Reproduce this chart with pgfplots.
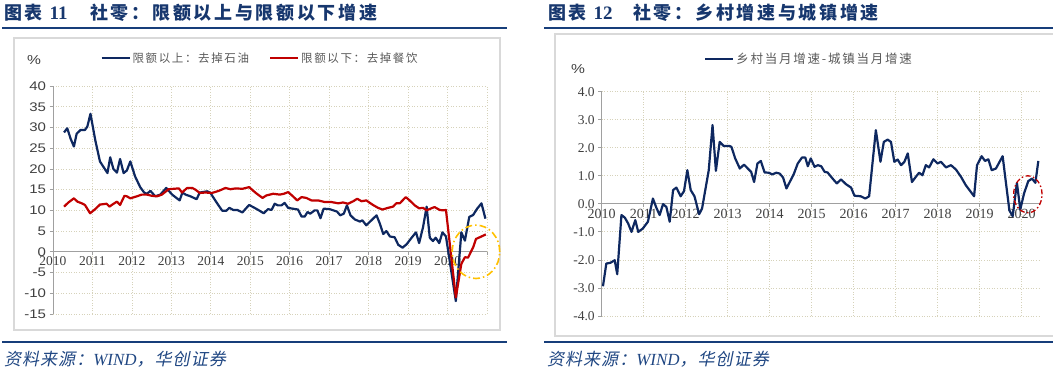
\documentclass[border=0pt]{standalone}
\usepackage{pgfplots}
\pgfplotsset{compat=1.18}
\usepackage{fontspec}
\setmainfont{Liberation Serif}
\newfontfamily\sansf[FakeStretch=1.2]{Liberation Sans}
\newfontfamily\cjk[LetterSpace=14]{Noto Sans CJK SC}
\newfontfamily\cjkt[LetterSpace=15]{Noto Sans CJK SC}
\newfontfamily\cjkit[FakeSlant=0.2,LetterSpace=6]{Noto Sans CJK SC}
\definecolor{navy}{RGB}{14,40,96}
\definecolor{dred}{RGB}{192,0,0}
\definecolor{rulec}{RGB}{23,62,122}
\definecolor{titlec}{RGB}{23,55,110}
\definecolor{srcc}{RGB}{31,70,130}
\definecolor{gridc}{RGB}{214,210,186}
\definecolor{boxc}{RGB}{217,217,217}
\definecolor{axc}{RGB}{160,160,160}
\definecolor{tickc}{RGB}{64,64,64}
\definecolor{legc}{RGB}{89,89,89}
\definecolor{ylw}{RGB}{255,192,0}
\pgfplotsset{
  mystyle/.style={
    scale only axis,
    axis x line=middle, axis y line=left,
    axis line style={-, draw=axc, line width=0.9pt},
    grid=major, grid style={draw=gridc, line width=0.8pt, dash pattern=on 1pt off 1.6pt},
    tick align=outside, major tick length=3.5pt, tick style={draw=axc, line width=0.8pt},
    hide obscured x ticks=false, hide obscured y ticks=false,
    clip=false,
    legend columns=2,
    legend cell align=left,
    legend image code/.code={\draw[##1, line width=2.2pt] (0pt,0pt) -- (28pt,0pt);},
  }
}
\begin{document}
\begin{tikzpicture}[x=1pt,y=1pt]
\useasboundingbox (0,0) rectangle (1053,382);
% rules
\fill[rulec] (2,352.7) rectangle (507,354.7);
\fill[rulec] (544,352.7) rectangle (1053,354.7);
\fill[rulec] (2,39) rectangle (507,41);
\fill[rulec] (544,39) rectangle (1053,41);
% boxes
\draw[boxc, line width=1.5pt] (14,344) rectangle (500,52);
\draw[boxc, line width=1.5pt] (1053,348) -- (555,348) -- (555,46) -- (1053,46);
% titles
\node[anchor=west, text=titlec, inner sep=0] at (4,369) {\cjkt\bfseries\fontsize{18}{18}\selectfont 图表 {\rmfamily\bfseries\fontsize{19}{19}\selectfont 11}};
\node[anchor=west, text=titlec, inner sep=0] at (90,369) {\cjkt\bfseries\fontsize{18}{18}\selectfont 社零：限额以上与限额以下增速};
\node[anchor=west, text=titlec, inner sep=0] at (548,369) {\cjkt\bfseries\fontsize{18}{18}\selectfont 图表 {\rmfamily\bfseries\fontsize{19}{19}\selectfont 12}};
\node[anchor=west, text=titlec, inner sep=0] at (633,369) {\cjkt\bfseries\fontsize{18}{18}\selectfont 社零：乡村增速与城镇增速};
% sources
\node[anchor=west, text=srcc, inner sep=0] at (4,23) {\cjkit\fontsize{17}{17}\selectfont 资料来源：{\rmfamily\itshape WIND}，华创证券};
\node[anchor=west, text=srcc, inner sep=0] at (547,23) {\cjkit\fontsize{17}{17}\selectfont 资料来源：{\rmfamily\itshape WIND}，华创证券};
% percent labels
\node[text=tickc, font=\sansf\fontsize{13}{13}\selectfont] at (34,322) {\%};
\node[text=tickc, font=\sansf\fontsize{13}{13}\selectfont] at (578,313) {\%};

\begin{axis}[mystyle,
  at={(53pt,68pt)}, anchor=south west,
  width=434pt, height=228pt,
  xmin=2010, xmax=2021, ymin=-15, ymax=40,
  xtick={2010,2011,2012,2013,2014,2015,2016,2017,2018,2019,2020,2021},
  xticklabels={2010,2011,2012,2013,2014,2015,2016,2017,2018,2019,2020,{}},
  ytick={-15,-10,-5,0,5,10,15,20,25,30,35,40},
  yticklabels={-15,-10,-5,0,5,10,15,20,25,30,35,40},
  x tick label style={font=\rmfamily\fontsize{13.5}{13.5}\selectfont, text=tickc, inner sep=1.5pt},
  y tick label style={font=\sansf\fontsize{12.5}{12.5}\selectfont, text=tickc},
  legend style={at={(0.477,1)}, anchor=center, yshift=28pt, draw=none, fill=none,
    font=\cjk\fontsize{11.5}{12}\selectfont, text=legc,
    /tikz/every even column/.append style={column sep=18pt}},
]
\addplot[navy, line width=2.2pt, line join=round] coordinates {
(2010.28,28.8)(2010.36,29.8)(2010.45,27.2)(2010.53,25.4)(2010.60,28.5)(2010.70,29.4)(2010.81,29.4)(2010.87,30.2)(2010.95,33.3)(2011.07,27.0)(2011.19,21.8)(2011.38,19.0)(2011.45,22.8)(2011.53,20.0)(2011.62,19.1)(2011.70,22.4)(2011.79,19.0)(2011.87,19.6)(2011.96,21.8)(2012.08,18.2)(2012.21,15.6)(2012.31,14.3)(2012.38,14.0)(2012.47,14.7)(2012.59,13.4)(2012.72,13.8)(2012.87,15.4)(2013.02,13.8)(2013.21,12.4)(2013.28,14.3)(2013.36,13.8)(2013.48,13.4)(2013.64,12.7)(2013.72,14.3)(2013.91,14.6)(2013.99,14.2)(2014.16,11.7)(2014.29,9.9)(2014.39,9.9)(2014.47,10.6)(2014.57,10.1)(2014.67,10.1)(2014.80,9.5)(2014.97,11.3)(2015.09,10.7)(2015.22,10.0)(2015.34,9.3)(2015.45,10.3)(2015.54,10.1)(2015.62,11.6)(2015.70,11.2)(2015.79,11.2)(2015.87,11.8)(2015.96,10.6)(2016.08,10.4)(2016.21,10.2)(2016.30,8.5)(2016.38,8.5)(2016.45,9.6)(2016.52,9.2)(2016.63,10.0)(2016.70,10.0)(2016.78,8.1)(2016.86,10.4)(2017.01,10.3)(2017.20,9.7)(2017.28,8.8)(2017.37,9.2)(2017.45,11.2)(2017.54,8.8)(2017.65,7.8)(2017.78,7.3)(2017.84,7.6)(2017.94,6.4)(2018.07,7.6)(2018.20,8.8)(2018.28,6.9)(2018.37,4.3)(2018.45,5.0)(2018.54,3.7)(2018.66,3.5)(2018.75,1.7)(2018.86,1.0)(2018.96,1.8)(2019.09,3.4)(2019.20,4.7)(2019.28,2.1)(2019.38,6.0)(2019.47,10.9)(2019.55,3.4)(2019.63,2.6)(2019.70,3.4)(2019.79,2.1)(2019.87,4.7)(2019.96,3.7)(2020.21,-11.9)(2020.35,4.7)(2020.44,2.7)(2020.55,8.4)(2020.65,8.9)(2020.75,10.4)(2020.86,11.7)(2020.96,8.0)
};
\addlegendentry{限额以上：去掉石油}
\addplot[dred, line width=2.2pt, line join=round] coordinates {
(2010.28,10.9)(2010.39,11.9)(2010.53,12.9)(2010.62,12.1)(2010.73,11.7)(2010.81,11.3)(2010.94,9.3)(2011.07,10.3)(2011.19,11.4)(2011.36,11.6)(2011.43,10.9)(2011.52,11.5)(2011.62,12.1)(2011.70,11.3)(2011.81,13.5)(2011.87,13.4)(2011.96,12.9)(2012.13,13.4)(2012.25,13.8)(2012.38,13.8)(2012.51,13.5)(2012.64,13.4)(2012.76,13.8)(2012.93,15.1)(2013.19,15.3)(2013.27,14.3)(2013.40,15.4)(2013.53,15.4)(2013.61,15.0)(2013.72,14.2)(2013.86,14.3)(2014.03,14.2)(2014.20,14.7)(2014.37,15.4)(2014.50,15.1)(2014.63,15.3)(2014.80,15.2)(2014.97,15.6)(2015.14,14.2)(2015.31,13.0)(2015.41,13.6)(2015.58,14.0)(2015.75,13.8)(2015.85,14.0)(2015.96,14.4)(2016.08,13.4)(2016.19,12.4)(2016.30,13.2)(2016.42,13.0)(2016.55,12.4)(2016.72,12.4)(2016.89,12.0)(2017.06,12.0)(2017.23,11.7)(2017.35,11.9)(2017.48,11.6)(2017.61,12.2)(2017.71,12.8)(2017.82,12.2)(2017.94,12.4)(2018.11,11.3)(2018.24,10.6)(2018.35,10.2)(2018.49,10.6)(2018.62,10.9)(2018.70,11.7)(2018.79,11.7)(2018.94,13.2)(2019.04,12.4)(2019.17,11.2)(2019.28,10.5)(2019.38,10.6)(2019.47,10.0)(2019.59,10.5)(2019.67,10.8)(2019.80,10.1)(2019.89,10.0)(2019.96,10.1)(2020.21,-11.0)(2020.35,-2.9)(2020.44,-1.3)(2020.52,-1.4)(2020.65,1.1)(2020.72,3.1)(2020.86,3.7)(2020.97,4.2)
};
\addlegendentry{限额以下：去掉餐饮}
\draw[ylw, line width=1.6pt, dash pattern=on 7pt off 3pt on 1.5pt off 3pt] (axis cs:2020.72,0) ellipse [x radius=23.8pt, y radius=26.7pt];
\end{axis}

\begin{axis}[mystyle,
  at={(601.7pt,66pt)}, anchor=south west,
  width=438.3pt, height=224.3pt,
  xmin=2010, xmax=2020.44, ymin=-4, ymax=4,
  xtick={2010,2011,2012,2013,2014,2015,2016,2017,2018,2019,2020},
  xticklabels={2010,2011,2012,2013,2014,2015,2016,2017,2018,2019,2020},
  ytick={-4,-3,-2,-1,0,1,2,3,4},
  yticklabels={-4.0,-3.0,-2.0,-1.0,0.0,1.0,2.0,3.0,4.0},
  x tick label style={font=\rmfamily\fontsize{14}{14}\selectfont, text=tickc, inner sep=1.5pt},
  y tick label style={font=\rmfamily\fontsize{13.5}{13.5}\selectfont, text=tickc},
  legend style={at={(0.473,1)}, anchor=center, yshift=32.7pt, draw=none, fill=none,
    font=\cjk\fontsize{12.5}{13}\selectfont, text=legc},
]
\addplot[navy, line width=2.2pt, line join=round] coordinates {
(2010.03,-2.94)(2010.11,-2.13)(2010.21,-2.10)(2010.31,-2.01)(2010.37,-2.51)(2010.47,-0.40)(2010.55,-0.49)(2010.63,-0.70)(2010.71,-1.00)(2010.80,-0.58)(2010.87,-1.00)(2010.98,-0.88)(2011.10,-0.64)(2011.22,0.19)(2011.30,-0.13)(2011.38,-0.40)(2011.46,-0.01)(2011.54,-0.11)(2011.62,-0.64)(2011.70,0.49)(2011.78,0.58)(2011.88,0.27)(2011.96,0.45)(2012.04,1.20)(2012.12,0.49)(2012.21,0.27)(2012.32,-0.37)(2012.39,-0.17)(2012.55,1.20)(2012.64,2.81)(2012.72,1.18)(2012.81,2.21)(2012.91,2.06)(2013.05,2.06)(2013.09,2.03)(2013.18,1.62)(2013.29,1.26)(2013.39,1.40)(2013.48,1.26)(2013.56,1.14)(2013.63,0.78)(2013.71,1.44)(2013.79,1.53)(2013.88,1.12)(2013.98,1.11)(2014.06,1.05)(2014.16,1.11)(2014.24,1.08)(2014.32,0.94)(2014.40,0.55)(2014.50,0.84)(2014.58,1.08)(2014.67,1.44)(2014.77,1.65)(2014.85,1.65)(2014.91,1.34)(2014.98,1.62)(2015.07,1.32)(2015.15,1.38)(2015.23,1.34)(2015.31,1.14)(2015.38,1.12)(2015.50,0.90)(2015.60,0.73)(2015.70,0.87)(2015.82,0.70)(2015.94,0.58)(2016.02,0.29)(2016.17,0.27)(2016.28,0.19)(2016.37,0.27)(2016.53,2.63)(2016.64,1.50)(2016.72,2.21)(2016.81,2.29)(2016.89,2.21)(2016.97,1.50)(2017.05,1.58)(2017.13,1.38)(2017.21,1.50)(2017.29,1.80)(2017.39,0.78)(2017.48,0.96)(2017.56,1.11)(2017.64,1.02)(2017.72,1.38)(2017.80,1.30)(2017.90,1.59)(2018.00,1.44)(2018.08,1.50)(2018.20,1.30)(2018.32,1.38)(2018.44,1.22)(2018.56,0.96)(2018.67,0.67)(2018.79,0.43)(2018.87,0.27)(2018.94,1.38)(2019.05,1.70)(2019.13,1.53)(2019.21,1.59)(2019.29,1.20)(2019.39,1.26)(2019.55,1.70)(2019.71,-0.23)(2019.79,-0.44)(2019.89,0.75)(2019.97,-0.20)(2020.06,0.37)(2020.16,0.81)(2020.25,0.90)(2020.33,0.75)(2020.40,1.53)
};
\addlegendentry{乡村当月增速-城镇当月增速}
\draw[dred, line width=1.3pt, dash pattern=on 5pt off 2.5pt on 1.5pt off 2.5pt] (axis cs:2020.15,0.34) ellipse [x radius=14.2pt, y radius=18.5pt];
\end{axis}
\end{tikzpicture}
\end{document}
